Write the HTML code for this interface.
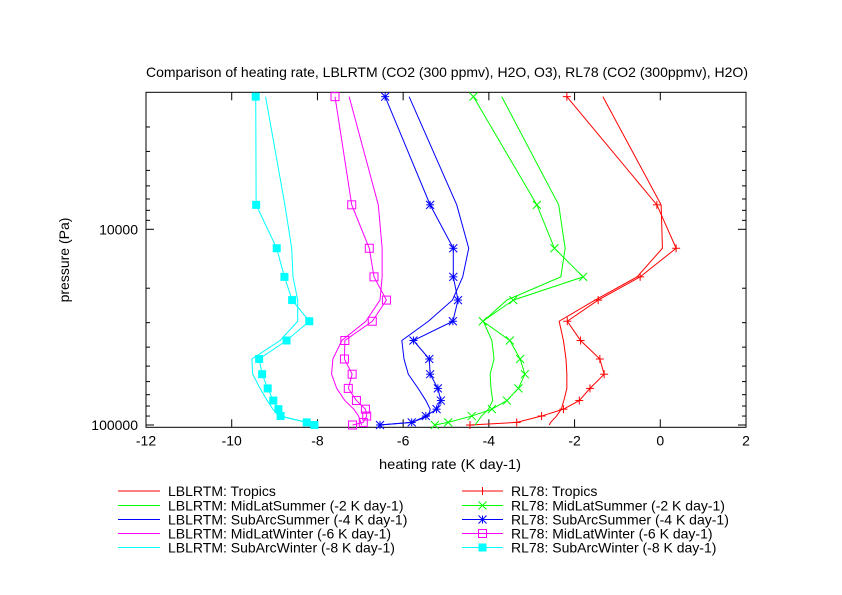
<!DOCTYPE html>
<html><head><meta charset="utf-8"><style>
html,body{margin:0;padding:0;background:#fff;}
svg{display:block;font-family:"Liberation Sans",sans-serif;}
</style></head><body>
<svg id="chart" width="842" height="595" viewBox="0 0 842 595" xmlns="http://www.w3.org/2000/svg">
<text x="447" y="77" font-size="14" text-anchor="middle" textLength="602" lengthAdjust="spacingAndGlyphs">Comparison of heating rate, LBLRTM (CO2 (300 ppmv), H2O, O3), RL78 (CO2 (300ppmv), H2O)</text>
<text x="450" y="469" font-size="14" text-anchor="middle" textLength="142" lengthAdjust="spacingAndGlyphs">heating rate (K day-1)</text>
<text transform="translate(69,260) rotate(-90)" font-size="14" text-anchor="middle">pressure (Pa)</text>
<g id="axes"></g>
<g id="series"></g>
<g id="legend"></g>
</svg>
<script>
const xTicks = [-12, -10, -8, -6, -4, -2, 0, 2];
const yMajor = [10000, 100000];
const yMinor = [3000,4000,5000,6000,7000,8000,9000,20000,30000,40000,50000,60000,70000,80000,90000];
const levels = [2100, 7500, 12500, 17500, 23000, 29500, 37000, 46000, 55000, 65000, 75000, 83000, 90000, 97000, 100000];
const names = ["Tropics", "MidLatSummer (-2 K day-1)", "SubArcSummer (-4 K day-1)", "MidLatWinter (-6 K day-1)", "SubArcWinter (-8 K day-1)"];
const lblTropics = [-1.34,0.02,0.05,-0.54,-1.52,-2.36,-2.26,-2.20,-2.18,-2.18,-2.25,-2.31,-2.42,-2.56,-2.59];
const lblMLS = [-3.70,-2.37,-2.22,-2.32,-3.58,-4.13,-3.93,-3.88,-3.97,-3.95,-3.91,-4.01,-4.17,-4.28,-4.32];
const lblSAS = [-5.86,-4.75,-4.47,-4.61,-4.85,-5.41,-6.03,-5.98,-5.88,-5.65,-5.47,-5.37,-5.40,-5.80,-6.54];
const lblMLW = [-7.26,-6.58,-6.49,-6.49,-6.54,-6.87,-7.43,-7.64,-7.67,-7.55,-7.36,-7.15,-7.04,-6.99,-6.97];
const lblSAW = [-9.21,-8.76,-8.60,-8.57,-8.46,-8.46,-8.87,-9.53,-9.51,-9.34,-9.17,-9.04,-8.89,-8.25,-8.06];
const rlTropics = [-2.18,-0.08,0.37,-0.47,-1.45,-2.17,-1.86,-1.41,-1.31,-1.64,-1.89,-2.26,-2.77,-3.35,-4.44];
const rlMLS = [-4.36,-2.88,-2.47,-1.80,-3.43,-4.14,-3.51,-3.27,-3.16,-3.31,-3.58,-3.93,-4.40,-4.95,-5.26];
const rlSAS = [-6.42,-5.37,-4.83,-4.83,-4.72,-4.84,-5.76,-5.39,-5.37,-5.19,-5.12,-5.22,-5.47,-5.80,-6.54];
const rlMLW = [-7.59,-7.20,-6.79,-6.68,-6.39,-6.72,-7.36,-7.37,-7.19,-7.28,-7.09,-6.88,-6.85,-6.93,-7.18];
const rlSAW = [-9.44,-9.43,-8.95,-8.77,-8.59,-8.19,-8.72,-9.36,-9.29,-9.16,-9.03,-8.91,-8.86,-8.25,-8.07];

const NS = "http://www.w3.org/2000/svg";
const L = 146, R = 746, T = 92.3, B = 427.3;
const xMin = -12, xMax = 2;
function xs(v){ return L + (v - xMin) / (xMax - xMin) * (R - L); }
function ys(p){ return 229.3 + (Math.log10(p) - 4) * 195.7; }
function mk(tag, attrs, parent){ const e = document.createElementNS(NS, tag); for (const k in attrs) e.setAttribute(k, attrs[k]); parent.appendChild(e); return e; }

const axes = document.getElementById('axes');
const frame = mk('rect', {x:L, y:T, width:R-L, height:B-T, fill:'none', stroke:'#000', 'stroke-width':1}, axes);


xTicks.forEach(v => {
  const x = xs(v);
  mk('line', {x1:x, y1:B, x2:x, y2:B-8, stroke:'#000'}, axes);
  mk('line', {x1:x, y1:T, x2:x, y2:T+8, stroke:'#000'}, axes);
  const t = mk('text', {x:x, y:B+18, 'font-size':14, 'text-anchor':'middle'}, axes);
  t.textContent = v;
  
  
});
yMajor.forEach(p => {
  const y = ys(p);
  mk('line', {x1:L, y1:y, x2:L+8, y2:y, stroke:'#000'}, axes);
  mk('line', {x1:R, y1:y, x2:R-8, y2:y, stroke:'#000'}, axes);
  const t = mk('text', {x:L-8, y:y+5, 'font-size':14, 'text-anchor':'end'}, axes);
  t.textContent = p;
  
  
});
yMinor.forEach(p => {
  const y = ys(p);
  mk('line', {x1:L, y1:y, x2:L+4, y2:y, stroke:'#000'}, axes);
  mk('line', {x1:R, y1:y, x2:R-4, y2:y, stroke:'#000'}, axes);
});

const colors = ['#ff0000', '#00ff00', '#0000ff', '#ff00ff', '#00ffff'];
const lbl = [lblTropics, lblMLS, lblSAS, lblMLW, lblSAW];
const rl = [rlTropics, rlMLS, rlSAS, rlMLW, rlSAW];
const markers = ['plus', 'cross', 'star', 'box', 'fbox'];

function marker(type, x, y, c, g){
  const s = 4;
  if (type === 'plus' || type === 'star') {
    mk('line', {x1:x-s, y1:y, x2:x+s, y2:y, stroke:c}, g);
    mk('line', {x1:x, y1:y-s, x2:x, y2:y+s, stroke:c}, g);
  }
  if (type === 'cross' || type === 'star') {
    mk('line', {x1:x-s, y1:y-s, x2:x+s, y2:y+s, stroke:c}, g);
    mk('line', {x1:x-s, y1:y+s, x2:x+s, y2:y-s, stroke:c}, g);
  }
  if (type === 'box') mk('rect', {x:x-s, y:y-s, width:2*s, height:2*s, fill:'none', stroke:c}, g);
  if (type === 'fbox') mk('rect', {x:x-s, y:y-s, width:2*s, height:2*s, fill:c}, g);
}

const series = document.getElementById('series');
const slug = ['tropics','midlatsummer','subarcsummer','midlatwinter','subarcwinter'];
for (let i = 0; i < 5; i++) {
  const pl = mk('polyline', {points: lbl[i].map((v,j) => xs(v)+','+ys(levels[j])).join(' '), fill:'none', stroke:colors[i], 'stroke-width':1}, series);
  
  
  const g = mk('g', {}, series);
  
  
  mk('polyline', {points: rl[i].map((v,j) => xs(v)+','+ys(levels[j])).join(' '), fill:'none', stroke:colors[i], 'stroke-width':1}, g);
  rl[i].forEach((v,j) => marker(markers[i], xs(v), ys(levels[j]), colors[i], g));
}

const legend = document.getElementById('legend');
const rowY = [491, 505.5, 519.5, 533.5, 547.5];
for (let i = 0; i < 5; i++) {
  const g1 = mk('g', {}, legend);
  
  
  mk('line', {x1:118, y1:rowY[i], x2:160, y2:rowY[i], stroke:colors[i]}, g1);
  const t1 = mk('text', {x:168, y:rowY[i]+5, 'font-size':14}, g1);
  t1.textContent = 'LBLRTM: ' + names[i];
  const g2 = mk('g', {}, legend);
  
  
  mk('line', {x1:462, y1:rowY[i], x2:503, y2:rowY[i], stroke:colors[i]}, g2);
  marker(markers[i], 482.5, rowY[i], colors[i], g2);
  const t2 = mk('text', {x:511, y:rowY[i]+5, 'font-size':14}, g2);
  t2.textContent = 'RL78: ' + names[i];
}
</script>
</body></html>
